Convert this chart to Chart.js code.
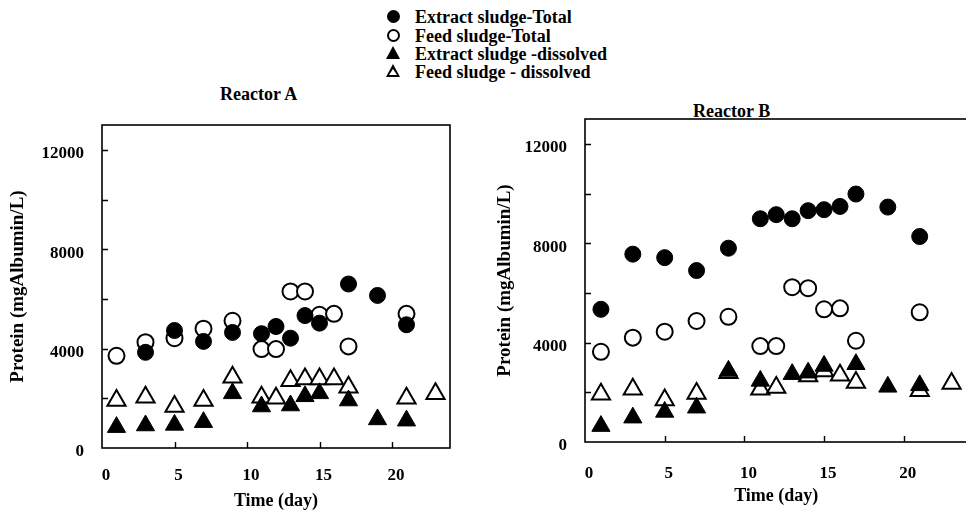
<!DOCTYPE html>
<html>
<head>
<meta charset="utf-8">
<script src="https://cdn.jsdelivr.net/npm/chart.js@4.4.1/dist/chart.umd.min.js"></script>
<style>
  html, body { margin: 0; padding: 0; background: #fff; overflow: hidden; }
  #page { position: relative; width: 966px; height: 514px; overflow: hidden; font-family: "Liberation Serif", serif; font-weight: bold; color: #000; }
  canvas { position: absolute; }
  .txt { position: absolute; font-size: 18px; white-space: nowrap; line-height: 18px; }
  .mk { position: absolute; box-sizing: border-box; }
  .circ { width: 13px; height: 13px; border-radius: 50%; border: 2px solid #000; }
  .tri { width: 14px; height: 13px; clip-path: polygon(50% 0, 100% 100%, 0 100%); background: #000; }
  .tri.hollow::after { content: ""; position: absolute; left: 3px; top: 5px; width: 8px; height: 6px; background: #fff; clip-path: polygon(50% 0, 100% 100%, 0 100%); }
</style>
</head>
<body>
<div id="page">
  <!-- shared legend -->
  <span class="mk circ" style="left:387px; top:10px; background:#000;"></span>
  <div class="txt" style="left:415px; top:8px;">Extract sludge-Total</div>
  <span class="mk circ" style="left:387px; top:29px; background:#fff;"></span>
  <div class="txt" style="left:415px; top:27px;">Feed sludge-Total</div>
  <span class="mk tri" style="left:386px; top:46px;"></span>
  <div class="txt" style="left:415px; top:45px;">Extract sludge -dissolved</div>
  <span class="mk tri hollow" style="left:386px; top:64px;"></span>
  <div class="txt" style="left:415px; top:63px;">Feed sludge - dissolved</div>

  <div class="txt" style="left:220px; top:85px;">Reactor A</div>
  <div class="txt" style="left:693px; top:102px;">Reactor B</div>

  <canvas id="reactorA" width="480" height="514" style="left:0; top:0;"></canvas>
  <canvas id="reactorB" width="490" height="514" style="left:490px; top:0;"></canvas>
</div>

<script>
// Reactor A
var extractTotalDaysA = [3, 5, 7, 9, 11, 12, 13, 14, 15, 17, 19, 21];
var extractTotalA = [3850, 4730, 4290, 4650, 4600, 4890, 4420, 5330, 5025, 6600, 6140, 4960];
var feedTotalDaysA = [1, 3, 5, 7, 9, 11, 12, 13, 14, 15, 16, 17, 21];
var feedTotalA = [3710, 4260, 4420, 4800, 5120, 3980, 3980, 6300, 6300, 5360, 5400, 4090, 5400];
var extractDissDaysA = [1, 3, 5, 7, 9, 11, 13, 14, 15, 17, 19, 21];
var extractDissA = [840, 905, 930, 1040, 2200, 1670, 1710, 2080, 2200, 1910, 1150, 1100];
var feedDissDaysA = [1, 3, 5, 7, 9, 11, 12, 13, 14, 15, 16, 17, 21, 23];
var feedDissA = [1910, 2040, 1670, 1910, 2850, 2040, 2000, 2710, 2780, 2780, 2780, 2450, 2000, 2180];

// Reactor B
var extractTotalDaysB = [1, 3, 5, 7, 9, 11, 12, 13, 14, 15, 16, 17, 19, 21];
var extractTotalB = [5340, 7560, 7420, 6900, 7800, 8985, 9150, 8985, 9310, 9350, 9480, 9980, 9455, 8270];
var feedTotalDaysB = [1, 3, 5, 7, 9, 11, 12, 13, 14, 15, 16, 17, 21];
var feedTotalB = [3630, 4200, 4440, 4870, 5040, 3860, 3860, 6230, 6190, 5340, 5380, 4075, 5220];
var extractDissDaysB = [1, 3, 5, 7, 9, 11, 13, 14, 15, 17, 19, 21];
var extractDissB = [640, 980, 1210, 1380, 2860, 2460, 2730, 2790, 3060, 3130, 2220, 2280];
var feedDissDaysB = [1, 3, 5, 7, 9, 11, 12, 14, 15, 16, 17, 21, 23];
var feedDissB = [1920, 2120, 1690, 1950, 2790, 2120, 2190, 2660, 2860, 2690, 2390, 2060, 2350];

var xTicks = [0, 5, 10, 15, 20];
var yTicks = [0, 2000, 4000, 6000, 8000, 10000, 12000];
var yLabelTicks = [0, 4000, 8000, 12000];

var FONT = "'Liberation Serif', 'Times New Roman', serif";

function pts(days, vals) {
  return days.map(function (d, i) { return { x: d, y: vals[i] }; });
}

// box around the plot and small inward tick marks
var frame = {
  id: "frame",
  afterDraw: function (chart) {
    var c = chart.ctx, a = chart.chartArea;
    var xs = chart.scales.x, ys = chart.scales.y;
    c.save();
    c.strokeStyle = "#000";
    c.lineWidth = 1.6;
    c.strokeRect(a.left, a.top, a.right - a.left, a.bottom - a.top);
    c.lineWidth = 1.4;
    c.beginPath();
    ys.ticks.forEach(function (t) {
      if (t.value === 0) return;
      var py = Math.round(ys.getPixelForValue(t.value)) + 0.5;
      c.moveTo(a.left, py);
      c.lineTo(a.left + 6, py);
    });
    xs.ticks.forEach(function (t) {
      if (t.value === 0) return;
      var px = Math.round(xs.getPixelForValue(t.value)) + 0.5;
      c.moveTo(px, a.bottom);
      c.lineTo(px, a.bottom - 6);
    });
    c.stroke();
    c.restore();
  }
};

function makeChart(id, series, opt) {
  new Chart(document.getElementById(id), {
    type: "scatter",
    data: {
      datasets: [
        { label: "Extract sludge-Total", data: series[0], pointStyle: "circle", pointRadius: 8,
          backgroundColor: "#000", borderColor: "#000", borderWidth: 1 },
        { label: "Extract sludge -dissolved", data: series[2], pointStyle: "triangle", pointRadius: 10.5,
          backgroundColor: "#000", borderColor: "#000", borderWidth: 1 },
        { label: "Feed sludge-Total", data: series[1], pointStyle: "circle", pointRadius: 8,
          backgroundColor: "#fff", borderColor: "#000", borderWidth: 2 },
        { label: "Feed sludge - dissolved", data: series[3], pointStyle: "triangle", pointRadius: 10.5,
          backgroundColor: "#fff", borderColor: "#000", borderWidth: 2 }
      ]
    },
    options: {
      responsive: false,
      animation: false,
      devicePixelRatio: 1,
      layout: { padding: { top: opt.top, right: opt.right, left: 0, bottom: 0 } },
      plugins: { legend: { display: false }, tooltip: { enabled: false } },
      scales: {
        x: {
          type: "linear", min: 0, max: 24,
          afterBuildTicks: function (s) { s.ticks = xTicks.map(function (v) { return { value: v }; }); },
          afterFit: function (s) { s.height = opt.xHeight; },
          grid: { display: false, drawTicks: false }, border: { display: false },
          ticks: { autoSkip: false, color: "#000", padding: opt.xPad, labelOffset: 4, maxRotation: 0,
                   font: { family: FONT, size: 17, weight: "bold" } },
          title: { display: true, text: "Time (day)", color: "#000", padding: { top: 0, bottom: opt.xTitlePad },
                   font: { family: FONT, size: 18, weight: "bold" } }
        },
        y: {
          type: "linear", min: 0, max: 13000,
          afterBuildTicks: function (s) { s.ticks = yTicks.map(function (v) { return { value: v }; }); },
          ticks: { autoSkip: false, color: "#000", padding: 18, labelOffset: 4,
                   font: { family: FONT, size: 17, weight: "bold" },
                   callback: function (v) { return yLabelTicks.indexOf(v) >= 0 ? String(v) : ""; } },
          afterFit: function (s) { s.width = opt.yWidth; },
          grid: { display: false, drawTicks: false }, border: { display: false },
          title: { display: true, text: "Protein (mgAlbumin/L)", color: "#000", padding: { top: opt.yTitlePad, bottom: 0 },
                   font: { family: FONT, size: 19, weight: "bold" } }
        }
      }
    },
    plugins: [frame]
  });
}

makeChart("reactorA", [
  pts(extractTotalDaysA, extractTotalA),
  pts(feedTotalDaysA, feedTotalA),
  pts(extractDissDaysA, extractDissA),
  pts(feedDissDaysA, feedDissA)
], { top: 125, right: 30, xHeight: 66, yWidth: 102, xPad: 17, xTitlePad: 2, yTitlePad: 7 });

makeChart("reactorB", [
  pts(extractTotalDaysB, extractTotalB),
  pts(feedTotalDaysB, feedTotalB),
  pts(extractDissDaysB, extractDissB),
  pts(feedDissDaysB, feedDissB)
], { top: 119, right: 2, xHeight: 72, yWidth: 95, xPad: 21, xTitlePad: 7, yTitlePad: 4 });
</script>
</body>
</html>
